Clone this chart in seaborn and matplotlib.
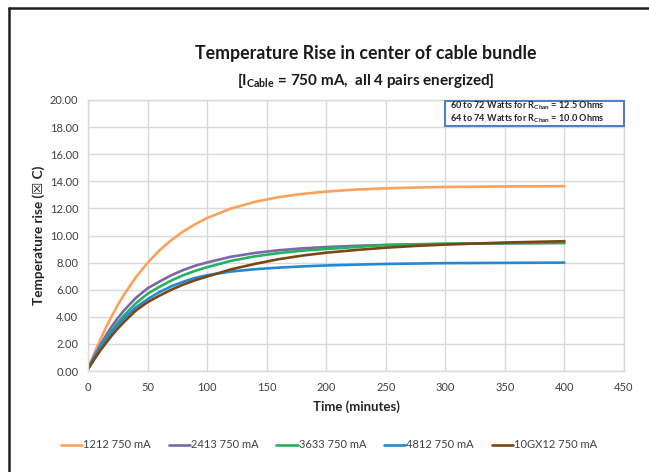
import pandas as pd
import matplotlib.pyplot as plt
import seaborn as sns
from matplotlib.lines import Line2D
from matplotlib.patches import Rectangle

# time axis (minutes) and temperature rise readings for each cable type
minutes = [0, 5, 10, 15, 20, 25, 30, 40, 50, 60, 70, 80, 90, 100, 120, 140,
           160, 180, 200, 225, 250, 275, 300, 350, 400]
rise_1212 = [0.15, 1.25, 2.25, 3.20, 4.06, 4.86, 5.60, 6.90, 7.98, 8.90, 9.66, 10.30,
             10.84, 11.29, 11.99, 12.48, 12.83, 13.07, 13.24, 13.39, 13.48, 13.54,
             13.58, 13.62, 13.64]
rise_2413 = [0.15, 1.05, 1.88, 2.62, 3.30, 3.90, 4.45, 5.38, 6.10, 6.60, 7.07, 7.45,
             7.77, 8.01, 8.43, 8.71, 8.91, 9.05, 9.15, 9.24, 9.30, 9.35, 9.38, 9.42, 9.45]
rise_3633 = [0.15, 0.95, 1.70, 2.38, 3.00, 3.56, 4.08, 4.98, 5.70, 6.21, 6.68, 7.07,
             7.39, 7.66, 8.13, 8.46, 8.70, 8.88, 9.00, 9.15, 9.30, 9.35, 9.39, 9.43, 9.46]
rise_4812 = [0.15, 0.95, 1.66, 2.30, 2.88, 3.40, 3.87, 4.68, 5.30, 5.83, 6.25, 6.59,
             6.87, 7.07, 7.34, 7.51, 7.63, 7.72, 7.79, 7.85, 7.90, 7.93, 7.96, 7.98, 8.00]
rise_10gx12 = [0.15, 0.82, 1.47, 2.06, 2.62, 3.13, 3.60, 4.45, 5.08, 5.56, 6.00, 6.38,
               6.70, 6.97, 7.50, 7.90, 8.25, 8.52, 8.73, 8.93, 9.10, 9.23, 9.33, 9.48, 9.58]

series_names = ['1212 750 mA', '2413 750 mA', '3633 750 mA', '4812 750 mA', '10GX12 750 mA']
series_values = [rise_1212, rise_2413, rise_3633, rise_4812, rise_10gx12]
line_colors = ['#F9A35A', '#7D66A8', '#22B35E', '#2389D6', '#7A4714']

y_ticks = [0, 2, 4, 6, 8, 10, 12, 14, 16, 18, 20]
x_ticks = [0, 50, 100, 150, 200, 250, 300, 350, 400, 450]

frames = []
for name, vals in zip(series_names, series_values):
    frames.append(pd.DataFrame({'Time': minutes, 'Rise': vals, 'Cable': name}))
df = pd.concat(frames, ignore_index=True)

sns.set_theme(style='white')
plt.rcParams['font.family'] = ['Lato', 'DejaVu Sans']
plt.rcParams['mathtext.fontset'] = 'custom'
plt.rcParams['mathtext.rm'] = 'Lato'
plt.rcParams['mathtext.bf'] = 'Lato:bold'

grid_col = '#d9d9d9'
text_col = '#404040'

fig = plt.figure(figsize=(6.49, 4.72), dpi=100)
ax = fig.add_axes([88 / 649, 1 - 371 / 472, 536 / 649, 271 / 472])

sns.lineplot(data=df, x='Time', y='Rise', hue='Cable', palette=line_colors,
             linewidth=1.9, ax=ax, legend=True)

ax.set_xlim(0, 450)
ax.set_ylim(0, 20)
ax.set_xticks(x_ticks)
ax.set_yticks(y_ticks)
ax.set_yticklabels([f'{v:.2f}' for v in y_ticks])
ax.grid(True, color=grid_col, linewidth=1.0)
ax.set_axisbelow(True)
for sp in ax.spines.values():
    sp.set_color(grid_col)
    sp.set_linewidth(1.0)
ax.tick_params(axis='both', which='both', length=4, width=1, color=grid_col,
               labelsize=8, labelcolor=text_col, pad=3)
ax.tick_params(axis='x', pad=4)

ax.set_xlabel('Time (minutes)', fontsize=9.5, fontweight='bold', color='#262626', labelpad=5)
ax.set_ylabel('Temperature rise (\u2612 C)', fontsize=9.8, fontweight='bold', color='#262626',
              labelpad=3)

# legend under the plot
handles, labels = ax.get_legend_handles_labels()
ax.get_legend().remove()
fig.legend(handles, labels, loc='center', bbox_to_anchor=(329 / 649, 1 - 445 / 472),
           ncol=5, frameon=False, fontsize=8, handlelength=1.9, handletextpad=0.1,
           columnspacing=1.6, labelcolor=text_col)

# titles
fig.text(366 / 649, 1 - 53 / 472, 'Temperature Rise in center of cable bundle',
         ha='center', va='center', fontsize=12.8, fontweight='bold', color='#1a1a1a')
fig.text(366 / 649, 1 - 81 / 472, r'[I$_{\mathbf{Cable}}$ = 750 mA,  all 4 pairs energized]',
         ha='center', va='center', fontsize=11, fontweight='bold', color='#1a1a1a')

# note box in the top right corner
box = Rectangle((445 / 649, 1 - 126 / 472), 179 / 649, 25 / 472, transform=fig.transFigure,
                facecolor='white', edgecolor='#4F81BD', linewidth=1.5, zorder=5)
fig.add_artist(box)
fig.text(450 / 649, 1 - 106 / 472, r'60 to 72 Watts for R$_{\mathbf{Chan}}$ = 12.5 Ohms',
         ha='left', va='center', fontsize=6.6, fontweight='bold', color='#262626', zorder=6)
fig.text(450 / 649, 1 - 119 / 472, r'64 to 74 Watts for R$_{\mathbf{Chan}}$ = 10.0 Ohms',
         ha='left', va='center', fontsize=6.6, fontweight='bold', color='#262626', zorder=6)

# dark frame on the left and top edge
fig.add_artist(Line2D([8.5 / 649, 8.5 / 649], [0, 1 - 8 / 472], transform=fig.transFigure,
                      color='#1e1e1e', linewidth=1.8))
fig.add_artist(Line2D([8.5 / 649, 1], [1 - 8 / 472, 1 - 8 / 472], transform=fig.transFigure,
                      color='#1e1e1e', linewidth=1.8))

plt.savefig('out.png', dpi=100)
